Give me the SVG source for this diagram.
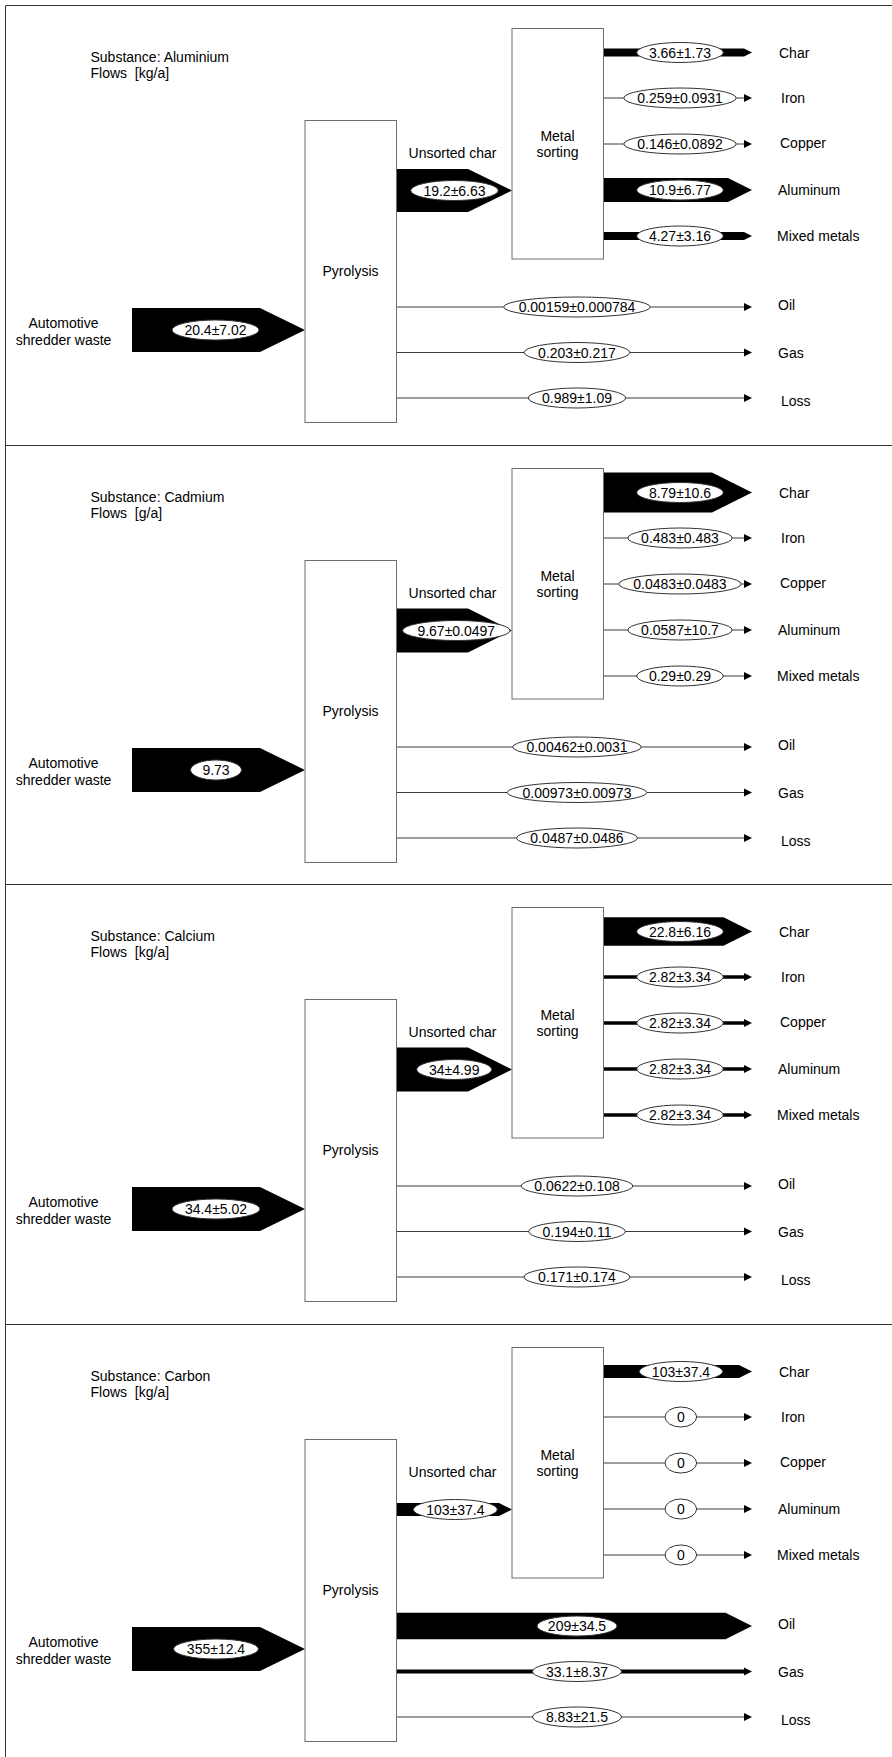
<svg xmlns="http://www.w3.org/2000/svg" width="892" height="1757" viewBox="0 0 892 1757">
<style>
.t{font-family:"Liberation Sans",Arial,sans-serif;font-size:14px;fill:#000}
.m{text-anchor:middle}
.box{fill:#fff;stroke:#6e6e6e;stroke-width:1}
.flow{fill:#000}
.thin{stroke:#3a3a3a;stroke-width:1;fill:none}
.mid{stroke:#000;fill:none}
.head{fill:#000}
.lab{fill:#fff;stroke:#333;stroke-width:1}
.frame{stroke:#333;stroke-width:1;fill:none}
</style>
<rect x="0" y="0" width="892" height="1757" fill="#fff"/>
<g id="frame">
<path class="frame" d="M5.5,1757 V5.5 H892 M5.5,445.5 H892 M5.5,884.5 H892 M5.5,1324.5 H892"/>
</g>

<!-- ===== Panel 1: Aluminium ===== -->
<g id="panel-aluminium">
<g id="p1-title"><text class="t" x="90.5" y="62">Substance: Aluminium</text><text class="t" x="90.5" y="78">Flows&#160; [kg/a]</text></g>
<g id="p1-connectors">
<polygon class="flow" points="132,308 260,308 305,330 260,352 132,352"/>
<ellipse class="lab" cx="215.5" cy="330" rx="43.5" ry="10"/><text class="t m" x="215.5" y="335">20.4±7.02</text>
<polygon class="flow" points="396,169 468,169 512,190.5 468,212 396,212"/>
<ellipse class="lab" cx="454.5" cy="190.5" rx="43.8" ry="10"/><text class="t m" x="454.5" y="195.5">19.2±6.63</text>
<polygon class="flow" points="603.5,48.5 744,48.5 752,52.5 744,56.5 603.5,56.5"/>
<ellipse class="lab" cx="680" cy="52.5" rx="43.3" ry="10"/><text class="t m" x="680" y="57.5">3.66±1.73</text>
<path class="thin" d="M603.5,98 H744"/><polygon class="head" points="744,94 752,98 744,102"/>
<ellipse class="lab" cx="680" cy="98" rx="56.2" ry="10"/><text class="t m" x="680" y="103">0.259±0.0931</text>
<path class="thin" d="M603.5,144 H744"/><polygon class="head" points="744,140 752,144 744,148"/>
<ellipse class="lab" cx="680" cy="144" rx="56.2" ry="10"/><text class="t m" x="680" y="149">0.146±0.0892</text>
<polygon class="flow" points="603.5,178 728,178 752,190 728,202 603.5,202"/>
<ellipse class="lab" cx="680" cy="190" rx="43.3" ry="10"/><text class="t m" x="680" y="195">10.9±6.77</text>
<polygon class="flow" points="603.5,232 744,232 752,236 744,240 603.5,240"/>
<ellipse class="lab" cx="680" cy="236" rx="43.3" ry="10"/><text class="t m" x="680" y="241">4.27±3.16</text>
<path class="thin" d="M396.5,307 H744"/><polygon class="head" points="744,303 752,307 744,311"/>
<ellipse class="lab" cx="577" cy="307" rx="73.3" ry="10"/><text class="t m" x="577" y="312">0.00159±0.000784</text>
<path class="thin" d="M396.5,352.5 H744"/><polygon class="head" points="744,348.5 752,352.5 744,356.5"/>
<ellipse class="lab" cx="577" cy="352.5" rx="52.8" ry="10"/><text class="t m" x="577" y="357.5">0.203±0.217</text>
<path class="thin" d="M396.5,398 H744"/><polygon class="head" points="744,394 752,398 744,402"/>
<ellipse class="lab" cx="577" cy="398" rx="48.7" ry="10"/><text class="t m" x="577" y="403">0.989±1.09</text>
</g>
<g id="p1-source"><text class="t m" x="63.5" y="328">Automotive</text><text class="t m" x="63.5" y="345">shredder waste</text></g>
<g id="p1-pyrolysis"><rect class="box" x="305" y="120.5" width="91.5" height="302"/><text class="t m" x="350.5" y="276">Pyrolysis</text></g>
<g id="p1-unsorted-label"><text class="t m" x="452.5" y="158">Unsorted char</text></g>
<g id="p1-metal-sorting"><rect class="box" x="512" y="28.5" width="91.5" height="230.5"/><text class="t m" x="557.5" y="141">Metal</text><text class="t m" x="557.5" y="157">sorting</text></g>
<g id="p1-sinks">
<g id="p1-char"><text class="t" x="779" y="58">Char</text></g>
<g id="p1-iron"><text class="t" x="781" y="103">Iron</text></g>
<g id="p1-copper"><text class="t" x="780" y="148">Copper</text></g>
<g id="p1-aluminum"><text class="t" x="778" y="195">Aluminum</text></g>
<g id="p1-mixed"><text class="t" x="777" y="241">Mixed metals</text></g>
<g id="p1-oil"><text class="t" x="778" y="310">Oil</text></g>
<g id="p1-gas"><text class="t" x="778" y="358">Gas</text></g>
<g id="p1-loss"><text class="t" x="781" y="406">Loss</text></g>
</g>
</g>

<!-- ===== Panel 2: Cadmium ===== -->
<g id="panel-cadmium" transform="translate(0,440)">
<g id="p2-title"><text class="t" x="90.5" y="62">Substance: Cadmium</text><text class="t" x="90.5" y="78">Flows&#160; [g/a]</text></g>
<g id="p2-connectors">
<polygon class="flow" points="132,308 260,308 305,330 260,352 132,352"/>
<ellipse class="lab" cx="216" cy="330" rx="25.5" ry="10"/><text class="t m" x="216" y="335">9.73</text>
<polygon class="flow" points="396,168.5 468,168.5 512,190.5 468,212.5 396,212.5"/>
<ellipse class="lab" cx="456.3" cy="190.5" rx="53.7" ry="10"/><text class="t m" x="456.3" y="195.5">9.67±0.0497</text>
<polygon class="flow" points="603.5,32.5 712,32.5 752,52.5 712,72.5 603.5,72.5"/>
<ellipse class="lab" cx="680" cy="52.5" rx="43.3" ry="10"/><text class="t m" x="680" y="57.5">8.79±10.6</text>
<path class="thin" d="M603.5,98 H744"/><polygon class="head" points="744,94 752,98 744,102"/>
<ellipse class="lab" cx="680" cy="98" rx="52.2" ry="10"/><text class="t m" x="680" y="103">0.483±0.483</text>
<path class="thin" d="M603.5,144 H744"/><polygon class="head" points="744,140 752,144 744,148"/>
<ellipse class="lab" cx="680" cy="144" rx="61.2" ry="10"/><text class="t m" x="680" y="149">0.0483±0.0483</text>
<path class="thin" d="M603.5,190 H744"/><polygon class="head" points="744,186 752,190 744,194"/>
<ellipse class="lab" cx="680" cy="190" rx="52.2" ry="10"/><text class="t m" x="680" y="195">0.0587±10.7</text>
<path class="thin" d="M603.5,236 H744"/><polygon class="head" points="744,232 752,236 744,240"/>
<ellipse class="lab" cx="680" cy="236" rx="43.3" ry="10"/><text class="t m" x="680" y="241">0.29±0.29</text>
<path class="thin" d="M396.5,307 H744"/><polygon class="head" points="744,303 752,307 744,311"/>
<ellipse class="lab" cx="577" cy="307" rx="64.3" ry="10"/><text class="t m" x="577" y="312">0.00462±0.0031</text>
<path class="thin" d="M396.5,352.5 H744"/><polygon class="head" points="744,348.5 752,352.5 744,356.5"/>
<ellipse class="lab" cx="577" cy="352.5" rx="69.8" ry="10"/><text class="t m" x="577" y="357.5">0.00973±0.00973</text>
<path class="thin" d="M396.5,398 H744"/><polygon class="head" points="744,394 752,398 744,402"/>
<ellipse class="lab" cx="577" cy="398" rx="60.5" ry="10"/><text class="t m" x="577" y="403">0.0487±0.0486</text>
</g>
<g id="p2-source"><text class="t m" x="63.5" y="328">Automotive</text><text class="t m" x="63.5" y="345">shredder waste</text></g>
<g id="p2-pyrolysis"><rect class="box" x="305" y="120.5" width="91.5" height="302"/><text class="t m" x="350.5" y="276">Pyrolysis</text></g>
<g id="p2-unsorted-label"><text class="t m" x="452.5" y="158">Unsorted char</text></g>
<g id="p2-metal-sorting"><rect class="box" x="512" y="28.5" width="91.5" height="230.5"/><text class="t m" x="557.5" y="141">Metal</text><text class="t m" x="557.5" y="157">sorting</text></g>
<g id="p2-sinks">
<g id="p2-char"><text class="t" x="779" y="58">Char</text></g>
<g id="p2-iron"><text class="t" x="781" y="103">Iron</text></g>
<g id="p2-copper"><text class="t" x="780" y="148">Copper</text></g>
<g id="p2-aluminum"><text class="t" x="778" y="195">Aluminum</text></g>
<g id="p2-mixed"><text class="t" x="777" y="241">Mixed metals</text></g>
<g id="p2-oil"><text class="t" x="778" y="310">Oil</text></g>
<g id="p2-gas"><text class="t" x="778" y="358">Gas</text></g>
<g id="p2-loss"><text class="t" x="781" y="406">Loss</text></g>
</g>
</g>

<!-- ===== Panel 3: Calcium ===== -->
<g id="panel-calcium" transform="translate(0,879)">
<g id="p3-title"><text class="t" x="90.5" y="62">Substance: Calcium</text><text class="t" x="90.5" y="78">Flows&#160; [kg/a]</text></g>
<g id="p3-connectors">
<polygon class="flow" points="132,308 260,308 305,330 260,352 132,352"/>
<ellipse class="lab" cx="216" cy="330" rx="44" ry="10"/><text class="t m" x="216" y="335">34.4±5.02</text>
<polygon class="flow" points="396,168.5 468,168.5 512,190.5 468,212.5 396,212.5"/>
<ellipse class="lab" cx="454.2" cy="190.5" rx="37.5" ry="10"/><text class="t m" x="454.2" y="195.5">34±4.99</text>
<polygon class="flow" points="603.5,38.25 723.5,38.25 752,52.5 723.5,66.75 603.5,66.75"/>
<ellipse class="lab" cx="680" cy="52.5" rx="43.3" ry="10"/><text class="t m" x="680" y="57.5">22.8±6.16</text>
<path class="mid" stroke-width="3.5" d="M603.5,98 H745"/><polygon class="head" points="744,94 752,98 744,102"/>
<ellipse class="lab" cx="680" cy="98" rx="43.3" ry="10"/><text class="t m" x="680" y="103">2.82±3.34</text>
<path class="mid" stroke-width="3.5" d="M603.5,144 H745"/><polygon class="head" points="744,140 752,144 744,148"/>
<ellipse class="lab" cx="680" cy="144" rx="43.3" ry="10"/><text class="t m" x="680" y="149">2.82±3.34</text>
<path class="mid" stroke-width="3.5" d="M603.5,190 H745"/><polygon class="head" points="744,186 752,190 744,194"/>
<ellipse class="lab" cx="680" cy="190" rx="43.3" ry="10"/><text class="t m" x="680" y="195">2.82±3.34</text>
<path class="mid" stroke-width="3.5" d="M603.5,236 H745"/><polygon class="head" points="744,232 752,236 744,240"/>
<ellipse class="lab" cx="680" cy="236" rx="43.3" ry="10"/><text class="t m" x="680" y="241">2.82±3.34</text>
<path class="thin" d="M396.5,307 H744"/><polygon class="head" points="744,303 752,307 744,311"/>
<ellipse class="lab" cx="577" cy="307" rx="55.8" ry="10"/><text class="t m" x="577" y="312">0.0622±0.108</text>
<path class="thin" d="M396.5,352.5 H744"/><polygon class="head" points="744,348.5 752,352.5 744,356.5"/>
<ellipse class="lab" cx="577" cy="352.5" rx="48.3" ry="10"/><text class="t m" x="577" y="357.5">0.194±0.11</text>
<path class="thin" d="M396.5,398 H744"/><polygon class="head" points="744,394 752,398 744,402"/>
<ellipse class="lab" cx="577" cy="398" rx="53" ry="10"/><text class="t m" x="577" y="403">0.171±0.174</text>
</g>
<g id="p3-source"><text class="t m" x="63.5" y="328">Automotive</text><text class="t m" x="63.5" y="345">shredder waste</text></g>
<g id="p3-pyrolysis"><rect class="box" x="305" y="120.5" width="91.5" height="302"/><text class="t m" x="350.5" y="276">Pyrolysis</text></g>
<g id="p3-unsorted-label"><text class="t m" x="452.5" y="158">Unsorted char</text></g>
<g id="p3-metal-sorting"><rect class="box" x="512" y="28.5" width="91.5" height="230.5"/><text class="t m" x="557.5" y="141">Metal</text><text class="t m" x="557.5" y="157">sorting</text></g>
<g id="p3-sinks">
<g id="p3-char"><text class="t" x="779" y="58">Char</text></g>
<g id="p3-iron"><text class="t" x="781" y="103">Iron</text></g>
<g id="p3-copper"><text class="t" x="780" y="148">Copper</text></g>
<g id="p3-aluminum"><text class="t" x="778" y="195">Aluminum</text></g>
<g id="p3-mixed"><text class="t" x="777" y="241">Mixed metals</text></g>
<g id="p3-oil"><text class="t" x="778" y="310">Oil</text></g>
<g id="p3-gas"><text class="t" x="778" y="358">Gas</text></g>
<g id="p3-loss"><text class="t" x="781" y="406">Loss</text></g>
</g>
</g>

<!-- ===== Panel 4: Carbon ===== -->
<g id="panel-carbon" transform="translate(0,1319)">
<g id="p4-title"><text class="t" x="90.5" y="62">Substance: Carbon</text><text class="t" x="90.5" y="78">Flows&#160; [kg/a]</text></g>
<g id="p4-connectors">
<polygon class="flow" points="132,308 260,308 305,330 260,352 132,352"/>
<ellipse class="lab" cx="216" cy="330" rx="42.5" ry="10"/><text class="t m" x="216" y="335">355±12.4</text>
<polygon class="flow" points="396,184 499,184 512,190.5 499,197 396,197"/>
<ellipse class="lab" cx="455.3" cy="190.5" rx="42" ry="10"/><text class="t m" x="455.3" y="195.5">103±37.4</text>
<polygon class="flow" points="603.5,46 739,46 752,52.5 739,59 603.5,59"/>
<ellipse class="lab" cx="681" cy="52.5" rx="41.7" ry="10"/><text class="t m" x="681" y="57.5">103±37.4</text>
<path class="thin" d="M603.5,98 H744"/><polygon class="head" points="744,94 752,98 744,102"/>
<ellipse class="lab" cx="680.8" cy="98" rx="15.8" ry="10"/><text class="t m" x="680.8" y="103">0</text>
<path class="thin" d="M603.5,144 H744"/><polygon class="head" points="744,140 752,144 744,148"/>
<ellipse class="lab" cx="680.8" cy="144" rx="15.8" ry="10"/><text class="t m" x="680.8" y="149">0</text>
<path class="thin" d="M603.5,190 H744"/><polygon class="head" points="744,186 752,190 744,194"/>
<ellipse class="lab" cx="680.8" cy="190" rx="15.8" ry="10"/><text class="t m" x="680.8" y="195">0</text>
<path class="thin" d="M603.5,236 H744"/><polygon class="head" points="744,232 752,236 744,240"/>
<ellipse class="lab" cx="680.8" cy="236" rx="15.8" ry="10"/><text class="t m" x="680.8" y="241">0</text>
<polygon class="flow" points="396.5,293.75 725.5,293.75 752,307 725.5,320.25 396.5,320.25"/>
<ellipse class="lab" cx="577" cy="307" rx="40" ry="10"/><text class="t m" x="577" y="312">209±34.5</text>
<path class="mid" stroke-width="4" d="M396.5,352.5 H745"/><polygon class="head" points="744,348.5 752,352.5 744,356.5"/>
<ellipse class="lab" cx="577" cy="352.5" rx="44.5" ry="10"/><text class="t m" x="577" y="357.5">33.1±8.37</text>
<path class="thin" stroke-width="1.2" d="M396.5,398 H744"/><polygon class="head" points="744,394 752,398 744,402"/>
<ellipse class="lab" cx="577" cy="398" rx="44.5" ry="10"/><text class="t m" x="577" y="403">8.83±21.5</text>
</g>
<g id="p4-source"><text class="t m" x="63.5" y="328">Automotive</text><text class="t m" x="63.5" y="345">shredder waste</text></g>
<g id="p4-pyrolysis"><rect class="box" x="305" y="120.5" width="91.5" height="302"/><text class="t m" x="350.5" y="276">Pyrolysis</text></g>
<g id="p4-unsorted-label"><text class="t m" x="452.5" y="158">Unsorted char</text></g>
<g id="p4-metal-sorting"><rect class="box" x="512" y="28.5" width="91.5" height="230.5"/><text class="t m" x="557.5" y="141">Metal</text><text class="t m" x="557.5" y="157">sorting</text></g>
<g id="p4-sinks">
<g id="p4-char"><text class="t" x="779" y="58">Char</text></g>
<g id="p4-iron"><text class="t" x="781" y="103">Iron</text></g>
<g id="p4-copper"><text class="t" x="780" y="148">Copper</text></g>
<g id="p4-aluminum"><text class="t" x="778" y="195">Aluminum</text></g>
<g id="p4-mixed"><text class="t" x="777" y="241">Mixed metals</text></g>
<g id="p4-oil"><text class="t" x="778" y="310">Oil</text></g>
<g id="p4-gas"><text class="t" x="778" y="358">Gas</text></g>
<g id="p4-loss"><text class="t" x="781" y="406">Loss</text></g>
</g>
</g>
</svg>
